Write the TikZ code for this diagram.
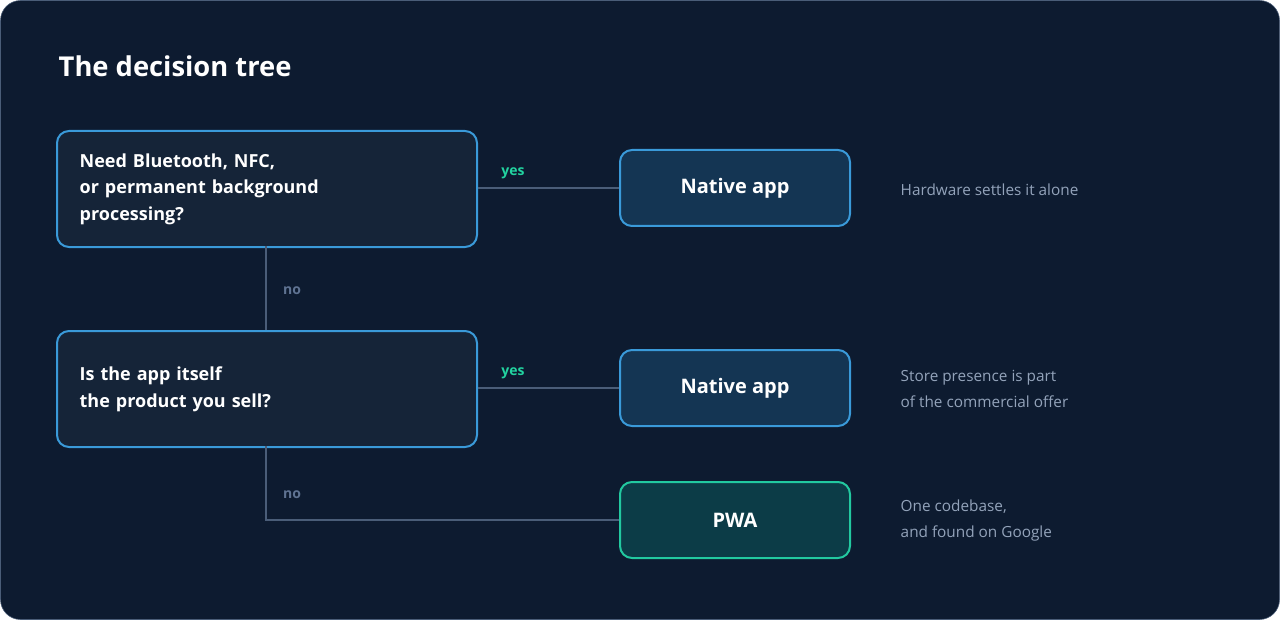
\documentclass[tikz,border=0pt]{standalone}
\usepackage{fontspec}
\setmainfont{Open Sans}
\begin{document}
\begin{tikzpicture}[x=0.75pt,y=-0.75pt,
 q/.style={draw=qb,line width=1.5pt,fill=qf,rounded corners=9pt,text=white,font=\bfseries\fontsize{13.5}{20}\selectfont,align=left,anchor=north west,inner xsep=17pt,text width=315pt-34pt},
 a/.style={draw=qb,line width=1.5pt,fill=af,rounded corners=9pt,text=white,font=\bfseries\fontsize{15}{18}\selectfont,minimum width=172.5pt,minimum height=57pt},
 ln/.style={draw=lc,line width=1.3pt},
 yes/.style={text=yc,font=\bfseries\fontsize{10.5}{12}\selectfont},
 no/.style={text=nc,font=\bfseries\fontsize{10.5}{12}\selectfont},
 side/.style={text=sc,font=\fontsize{11.5}{19.5}\selectfont,align=left,anchor=west}]
\definecolor{bg}{HTML}{0D1B30}\definecolor{qf}{HTML}{152438}\definecolor{qb}{HTML}{3A9AD9}
\definecolor{af}{HTML}{143553}\definecolor{pf}{HTML}{0C3C47}\definecolor{pb}{HTML}{22C9A0}
\definecolor{lc}{HTML}{4A5D78}\definecolor{yc}{HTML}{22D3A0}\definecolor{nc}{HTML}{5F7392}\definecolor{sc}{HTML}{93A3BA}
\path[fill=bg,draw=lc,rounded corners=15pt] (0.5,0.5) rectangle (1279.5,619.5);
\useasboundingbox (0,0) rectangle (1280,620);
\node[anchor=west,text=white,font=\bfseries\fontsize{20.5}{24}\selectfont] (t) at (54,66) {The decision tree};
\node[q,minimum height=87pt] (q1) at (56,130) {Need Bluetooth, NFC,\\or permanent background\\processing?};
\node[q,minimum height=87pt] (q2) at (56,330) {Is the app itself\\the product you sell?\\[18pt]};
\node[a] (n1) at (735,188) {Native app};
\node[a] (n2) at (735,388) {Native app};
\node[a,draw=pb,fill=pf] (p) at (735,520) {PWA};
\coordinate (c1) at (266,246); \coordinate (c2) at (266,330);
\coordinate (c3) at (266,446); \coordinate (c4) at (266,520);
\draw[ln] (q1.east|-n1) -- (n1.west);
\draw[ln] (q2.east|-n2) -- (n2.west);
\draw[ln] (c1) -- (c2);
\draw[ln] (c3) -- (c4) -- (p.west);
\node[yes] (y1) at (513,173) {yes};
\node[yes] (y2) at (513,373) {yes};
\node[no] (o1) at (292,291) {no};
\node[no] (o2) at (292,495) {no};
\node[side] (s1) at (896,190) {Hardware settles it alone};
\node[side] (s2) at (896,389) {Store presence is part\\of the commercial offer};
\node[side] (s3) at (896,521) {One codebase,\\and found on Google};
\end{tikzpicture}
\end{document}
